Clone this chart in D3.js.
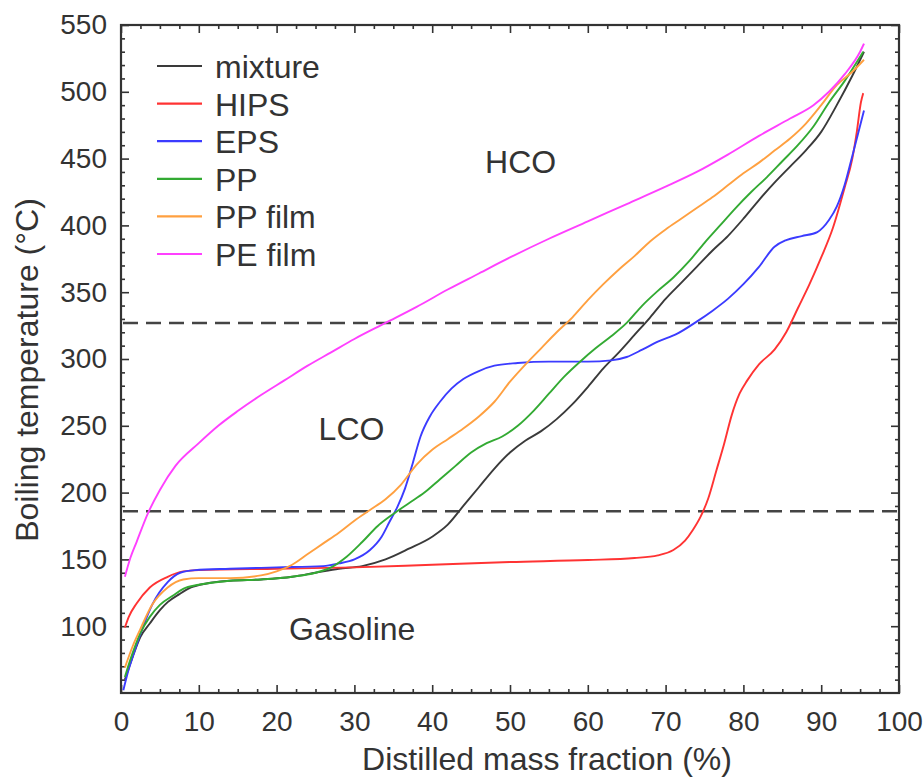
<!DOCTYPE html>
<html><head><meta charset="utf-8">
<script src="https://cdn.jsdelivr.net/npm/d3@7"></script>
<style>
body{margin:0;background:#fff}
text{font-family:"Liberation Sans",Arial,sans-serif;fill:#333}
</style>
</head><body>
<svg id="chart" width="924" height="778"></svg>
<script>
// ---- data ----
const seriesNames = ["mixture","HIPS","EPS","PP","PP film","PE film"];
const seriesColors = ["#3a3a3a","#ff3333","#3b3bff","#33aa33","#ffa040","#ff40ff"];

const mixture = [[0.5,60],[1.5,77],[2.5,92],[3.7,102],[5,112],[6,118],[7.5,124],[9,129],[11,132],[14,134],[18,135],[22,137],[25,140],[28,143],[31,145],[34,150],[37,158],[40,167],[42,176],[44,190],[46,204],[48,218],[50,230],[52,239],[54,246],[56,255],[58,266],[60,279],[62,293],[64,305],[66,318],[68,331],[70,345],[72,357],[74,369],[76,381],[78,392],[80,405],[82,419],[84,432],[86,444],[88,456],[90,470],[92,490],[94,512],[95.5,530]];
const hips = [[0.5,99],[1,107],[2,117],[3.7,129],[6,137],[8,141],[10,142],[20,143],[30,144],[40,146],[50,148],[60,149.5],[66,151],[69,153],[71,157],[72.5,164],[73.5,172],[74.5,182],[75.5,196],[76.5,216],[77.5,236],[78.5,258],[79.5,274],[80.5,284],[82,296],[84,307],[85.5,320],[87,338],[88.5,356],[90,376],[91.5,398],[93,428],[94,450],[94.6,471],[95.1,492],[95.4,499]];
const eps = [[0.3,52],[1,68],[1.5,77],[2.8,99],[4,116],[6,133],[7.6,140],[9.5,142],[14,143],[20,144],[26,145],[28,147],[30,150],[32,157],[33.5,167],[34.5,178],[35.5,189],[36.5,203],[37.5,222],[38.5,242],[39.7,257],[41,268],[42.5,278],[44,285],[46,291],[48,295],[51,297],[55,298],[60,298],[63,299],[65,301.5],[67,307],[69,313],[71.5,319],[74,328],[76,336],[78,345],[80,356],[82,369],[84,384],[85.5,389],[87.5,392],[89.5,395],[91,404],[92,414],[93,430],[94,452],[95.5,486]];
const pp = [[0.5,62],[1.5,80],[2.5,95],[3.7,107],[5,116],[6.7,123],[8,128],[10,131],[14,134],[18,135],[22,137],[25,140],[27,144],[29,152],[31,163],[33,175],[35,184],[37,192],[39,200],[41,210],[43,220],[45,230],[47,237],[49,242],[51,250],[53,261],[55,274],[57,287],[59,298],[61,308],[63,317],[65,327],[67,340],[69,351],[71,361],[73,373],[75,387],[77,400],[79,413],[81,425],[83,436],[85,448],[87,460],[89,474],[91,492],[93,508],[95.4,530]];
const ppFilm = [[0.5,69],[1.5,85],[2.5,98],[4,116],[6,129],[8,135],[10,136],[14,136],[18,138],[20,141],[22,146],[24,154],[26,162],[28,170],[30,179],[32,187],[34,195],[36,206],[38,221],[40,232],[42,240],[44,248],[46,257],[48,268],[50,283],[52,296],[54,308],[56,320],[58,331],[60,344],[62,356],[64,367],[66,377],[68,388],[70,397],[72,405],[74,413],[76,421],[78,430],[80,439],[82,447],[84,456],[86,465],[88,476],[90,490],[92,505],[94,515],[95.5,524]];
const peFilm = [[0.5,137],[1.2,151],[2,163],[3.5,185],[5,202],[7,220],[10,237],[12.5,250],[15,261],[18,273],[21,284],[24,295],[27,305],[30,315],[34,327],[38,339],[42,352],[46,364],[50,376],[55,390],[60,403],[65,416],[70,429],[74,440],[78,453],[82,467],[86,480],[89,490],[91,500],[93,513],[95,530],[95.5,536]];
const allSeries = [mixture,hips,eps,pp,ppFilm,peFilm];

const cutLevels = [186,327];
const regionLabels = ["HCO","LCO","Gasoline"];
const regionX = [46.8,25.4,21.6];
const regionY = [439,239.5,89.7];

const xTickValues = [0,10,20,30,40,50,60,70,80,90,100];
const yTickValues = [100,150,200,250,300,350,400,450,500,550];

// ---- layout ----
const L=121, R=899, T=25, B=693;
const svg = d3.select("#chart");
const x = d3.scaleLinear().domain([0,100]).range([L,R]);
const y = d3.scaleLinear().domain([50,550]).range([B,T]);

const xMinor = d3.range(0,100.01,2.5).filter(v=>v%10!==0);
const yMinor = d3.range(60,550,10).filter(v=>v%50!==0);

function axisGroup(axis, tx, ty){
  const g = svg.append("g").attr("transform",`translate(${tx},${ty})`).call(axis);
  g.select(".domain").remove();
  g.selectAll("line").attr("stroke","#333").attr("stroke-width",1.6);
  return g;
}
// bottom
const gb = axisGroup(d3.axisBottom(x).tickValues(xTickValues).tickSizeInner(-8).tickSizeOuter(0).tickPadding(16).tickFormat(d3.format("d")),0,B);
gb.selectAll("text").attr("font-size",28).attr("fill","#333").attr("dy","0.71em").attr("y",18);
axisGroup(d3.axisBottom(x).tickValues(xMinor).tickSizeInner(-4).tickSizeOuter(0).tickFormat(""),0,B);
// top
axisGroup(d3.axisTop(x).tickValues(xTickValues).tickSizeInner(-8).tickSizeOuter(0).tickFormat(""),0,T);
axisGroup(d3.axisTop(x).tickValues(xMinor).tickSizeInner(-4).tickSizeOuter(0).tickFormat(""),0,T);
// left
const gl = axisGroup(d3.axisLeft(y).tickValues(yTickValues).tickSizeInner(-8).tickSizeOuter(0).tickPadding(14).tickFormat(d3.format("d")),L,0);
gl.selectAll("text").attr("font-size",28).attr("fill","#333").attr("x",-14);
axisGroup(d3.axisLeft(y).tickValues(yMinor).tickSizeInner(-4).tickSizeOuter(0).tickFormat(""),L,0);
// right
axisGroup(d3.axisRight(y).tickValues(yTickValues).tickSizeInner(-8).tickSizeOuter(0).tickFormat(""),R,0);
axisGroup(d3.axisRight(y).tickValues(yMinor).tickSizeInner(-4).tickSizeOuter(0).tickFormat(""),R,0);

svg.selectAll("g text").attr("font-family","'Liberation Sans',Arial,sans-serif");

// frame
svg.append("rect").attr("x",L).attr("y",T).attr("width",R-L).attr("height",B-T)
  .attr("fill","none").attr("stroke","#333").attr("stroke-width",2.2);

// cut lines
svg.selectAll(".cut").data(cutLevels).join("line").attr("class","cut")
  .attr("x1",L+2).attr("x2",R).attr("y1",d=>y(d)).attr("y2",d=>y(d))
  .attr("stroke","#444").attr("stroke-width",2.4).attr("stroke-dasharray","15,8");

// curves
const line = d3.line().x(d=>x(d[0])).y(d=>y(d[1])).curve(d3.curveMonotoneX);
svg.selectAll(".series").data(allSeries).join("path").attr("class","series")
  .attr("d",line).attr("fill","none")
  .attr("stroke",(d,i)=>seriesColors[i]).attr("stroke-width",1.9)
  .attr("stroke-linejoin","round");

// region labels
svg.selectAll(".region").data(regionLabels).join("text").attr("class","region")
  .attr("x",(d,i)=>x(regionX[i])).attr("y",(d,i)=>y(regionY[i]))
  .attr("font-size",32).text(d=>d);

// legend
const lg = svg.append("g");
seriesNames.forEach((n,i)=>{
  const yy = 66 + i*37.6;
  lg.append("line").attr("x1",157).attr("x2",202).attr("y1",yy).attr("y2",yy)
    .attr("stroke",seriesColors[i]).attr("stroke-width",2.2);
  lg.append("text").attr("x",215).attr("y",yy+12).attr("font-size",32).text(n);
});

// axis titles
svg.append("text").attr("x",547).attr("y",770).attr("text-anchor","middle")
  .attr("font-size",32).text("Distilled mass fraction (%)");
svg.append("text").attr("transform","translate(38,370) rotate(-90)").attr("text-anchor","middle")
  .attr("font-size",32).text("Boiling temperature (°C)");
</script>
</body></html>
